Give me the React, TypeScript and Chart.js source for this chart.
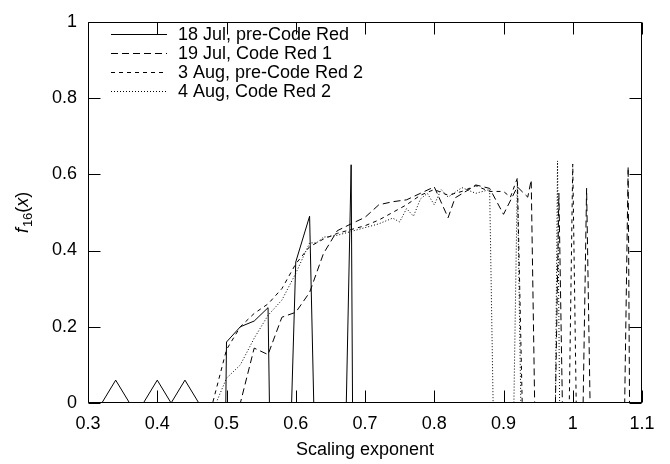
import React, { useEffect, useRef } from "react";
import { Chart, registerables } from "chart.js";

Chart.register(...registerables);

const FONT = "'Liberation Sans', Arial, Helvetica, sans-serif";
const FS = 18;

const seriesLabels = [
  "18 Jul, pre-Code Red",
  "19 Jul, Code Red 1",
  "3 Aug, pre-Code Red 2",
  "4 Aug, Code Red 2",
];

const jul18X = [0.30, 0.32, 0.34, 0.36, 0.38, 0.40, 0.42, 0.44, 0.46, 0.499, 0.50, 0.52, 0.54, 0.56, 0.562, 0.594, 0.60, 0.62, 0.626, 0.673, 0.68, 0.682, 1.10];
const jul18Y = [0, 0, 0.06, 0, 0, 0.06, 0, 0.06, 0, 0, 0.16, 0.20, 0.215, 0.25, 0, 0, 0.37, 0.49, 0, 0, 0.625, 0, 0];

const jul19X = [0.50, 0.52, 0.54, 0.56, 0.58, 0.60, 0.62, 0.64, 0.66, 0.68, 0.70, 0.72, 0.74, 0.76, 0.78, 0.80, 0.82, 0.83, 0.85, 0.86, 0.88, 0.90, 0.92, 0.935, 0.94, 0.945, 0.975, 0.98, 0.985, 1.015, 1.02, 1.025, 1.075, 1.08, 1.082, 1.10];
const jul19Y = [0, 0, 0.144, 0.127, 0.225, 0.238, 0.29, 0.392, 0.452, 0.47, 0.487, 0.52, 0.528, 0.533, 0.55, 0.567, 0.486, 0.538, 0.56, 0.572, 0.563, 0.495, 0.567, 0.54, 0.585, 0, 0, 0.55, 0, 0, 0.563, 0, 0, 0.62, 0, 0];

const aug3X = [0.47, 0.48, 0.50, 0.52, 0.54, 0.56, 0.58, 0.60, 0.62, 0.64, 0.66, 0.68, 0.70, 0.72, 0.74, 0.76, 0.78, 0.80, 0.82, 0.84, 0.86, 0.88, 0.90, 0.91, 0.92, 0.927, 0.995, 1.0, 1.005, 1.10];
const aug3Y = [0, 0, 0.14, 0.20, 0.235, 0.26, 0.30, 0.365, 0.41, 0.43, 0.445, 0.455, 0.465, 0.48, 0.50, 0.52, 0.545, 0.56, 0.545, 0.555, 0.57, 0.555, 0.555, 0.54, 0.59, 0, 0, 0.627, 0, 0];

const aug4X = [0.485, 0.50, 0.52, 0.54, 0.56, 0.58, 0.60, 0.62, 0.63, 0.64, 0.66, 0.68, 0.70, 0.72, 0.74, 0.75, 0.76, 0.77, 0.78, 0.79, 0.80, 0.81, 0.82, 0.84, 0.86, 0.88, 0.885, 0.915, 0.92, 0.925, 0.975, 0.978, 0.981, 1.10];
const aug4Y = [0, 0.065, 0.10, 0.17, 0.23, 0.27, 0.34, 0.42, 0.42, 0.435, 0.44, 0.45, 0.46, 0.47, 0.485, 0.475, 0.51, 0.49, 0.535, 0.55, 0.52, 0.56, 0.54, 0.565, 0.55, 0.56, 0, 0, 0.587, 0, 0, 0.635, 0, 0];

const xTicks = [0.3, 0.4, 0.5, 0.6, 0.7, 0.8, 0.9, 1.0, 1.1];
const yTicks = [0, 0.2, 0.4, 0.6, 0.8, 1.0];
const xTitle = "Scaling exponent";
const yTitleFn = "f";
const yTitleSub = "16";
const yTitleArg = "x";

const dashes: number[][] = [[], [7, 4], [4, 4], [1, 2]];

function pts(xs: number[], ys: number[]) {
  return xs.map((x, i) => ({ x, y: ys[i] }));
}

function fmt(v: number) {
  return String(Math.round(v * 10) / 10);
}

const gnuplotPlugin = {
  id: "gnuplotFrame",
  afterDraw(chart: any) {
    const { ctx, chartArea: a, scales } = chart;
    ctx.save();
    ctx.strokeStyle = "#000";
    ctx.fillStyle = "#000";
    ctx.lineWidth = 1;
    ctx.setLineDash([]);
    const L = Math.round(a.left) + 0.5;
    const R = Math.round(a.right) - 0.5;
    const T = Math.round(a.top) + 0.5;
    const B = Math.round(a.bottom) - 0.5;
    ctx.beginPath();
    ctx.rect(L, T, R - L, B - T);
    ctx.stroke();
    const TL = 12;
    ctx.beginPath();
    for (const v of xTicks) {
      const px = Math.round(scales.x.getPixelForValue(v)) + 0.5;
      ctx.moveTo(px, B);
      ctx.lineTo(px, B - TL);
      ctx.moveTo(px, T);
      ctx.lineTo(px, T + TL);
    }
    for (const v of yTicks) {
      const py = Math.round(scales.y.getPixelForValue(v)) + 0.5;
      ctx.moveTo(L, py);
      ctx.lineTo(L + TL, py);
      ctx.moveTo(R, py);
      ctx.lineTo(R - TL, py);
    }
    ctx.stroke();

    // legend
    const rowY = [34, 53, 72, 91];
    ctx.font = `${FS}px ${FONT}`;
    ctx.textBaseline = "middle";
    ctx.textAlign = "left";
    seriesLabels.forEach((lab, i) => {
      const y = rowY[i] + 0.5;
      ctx.setLineDash(dashes[i]);
      ctx.beginPath();
      ctx.moveTo(111, y);
      ctx.lineTo(167, y);
      ctx.stroke();
      ctx.setLineDash([]);
      ctx.fillText(lab, 178, rowY[i] + 1);
    });

    // x title
    ctx.textAlign = "center";
    ctx.textBaseline = "middle";
    ctx.font = `${FS}px ${FONT}`;
    ctx.fillText(xTitle, (a.left + a.right) / 2, 450);

    // y title with subscript
    ctx.save();
    ctx.translate(22, (a.top + a.bottom) / 2);
    ctx.rotate(-Math.PI / 2);
    ctx.textAlign = "left";
    ctx.textBaseline = "alphabetic";
    const fItal = `italic ${FS}px ${FONT}`;
    const fNorm = `${FS}px ${FONT}`;
    const fSub = `${Math.round(FS * 0.72)}px ${FONT}`;
    ctx.font = fItal; const w1 = ctx.measureText(yTitleFn).width + 1;
    ctx.font = fSub; const w2 = ctx.measureText(yTitleSub).width;
    ctx.font = fNorm; const w3 = ctx.measureText("(").width;
    ctx.font = fItal; const w4 = ctx.measureText(yTitleArg).width;
    ctx.font = fNorm; const w5 = ctx.measureText(")").width;
    const total = w1 + w2 + w3 + w4 + w5;
    let x = -total / 2;
    const base = 6;
    ctx.font = fItal; ctx.fillText(yTitleFn, x, base); x += w1;
    ctx.font = fSub; ctx.fillText(yTitleSub, x, base + 4); x += w2;
    ctx.font = fNorm; ctx.fillText("(", x, base); x += w3;
    ctx.font = fItal; ctx.fillText(yTitleArg, x, base); x += w4;
    ctx.font = fNorm; ctx.fillText(")", x, base);
    ctx.restore();

    ctx.restore();
  },
};

export default function App() {
  const ref = useRef<HTMLCanvasElement | null>(null);
  useEffect(() => {
    document.body.style.margin = "0";
    const canvas = ref.current;
    if (!canvas) return;
    const sets = [
      pts(jul18X, jul18Y),
      pts(jul19X, jul19Y),
      pts(aug3X, aug3Y),
      pts(aug4X, aug4Y),
    ];
    const chart = new Chart(canvas, {
      type: "line",
      data: {
        datasets: sets.map((d, i) => ({
          label: seriesLabels[i],
          data: d,
          borderColor: "#000",
          backgroundColor: "#000",
          borderWidth: 1,
          borderDash: dashes[i],
          pointRadius: 0,
          tension: 0,
          fill: false,
        })),
      },
      options: {
        responsive: false,
        animation: false,
        devicePixelRatio: 1,
        layout: { padding: { top: 13, right: 28, left: 0, bottom: 0 } },
        plugins: { legend: { display: false }, tooltip: { enabled: false } },
        scales: {
          x: {
            type: "linear",
            min: 0.3,
            max: 1.1,
            grid: { display: false, drawTicks: false },
            border: { display: false },
            afterBuildTicks: (s: any) => {
              s.ticks = xTicks.map((v) => ({ value: v }));
            },
            afterFit: (s: any) => {
              s.height = 61;
            },
            ticks: {
              autoSkip: false,
              maxRotation: 0,
              padding: 10,
              color: "#000",
              font: { family: FONT, size: FS },
              callback: (v: any) => fmt(Number(v)),
            },
          },
          y: {
            type: "linear",
            min: 0,
            max: 1,
            grid: { display: false, drawTicks: false },
            border: { display: false },
            afterBuildTicks: (s: any) => {
              s.ticks = yTicks.map((v) => ({ value: v }));
            },
            afterFit: (s: any) => {
              s.width = 88;
            },
            ticks: {
              padding: 11,
              color: "#000",
              font: { family: FONT, size: FS },
              callback: (v: any) => fmt(Number(v)),
            },
          },
        },
      },
      plugins: [gnuplotPlugin],
    } as any);
    return () => chart.destroy();
  }, []);
  return (
    <div style={{ width: 670, height: 464 }}>
      <canvas ref={ref} width={670} height={464} style={{ display: "block", width: 670, height: 464 }} />
    </div>
  );
}
